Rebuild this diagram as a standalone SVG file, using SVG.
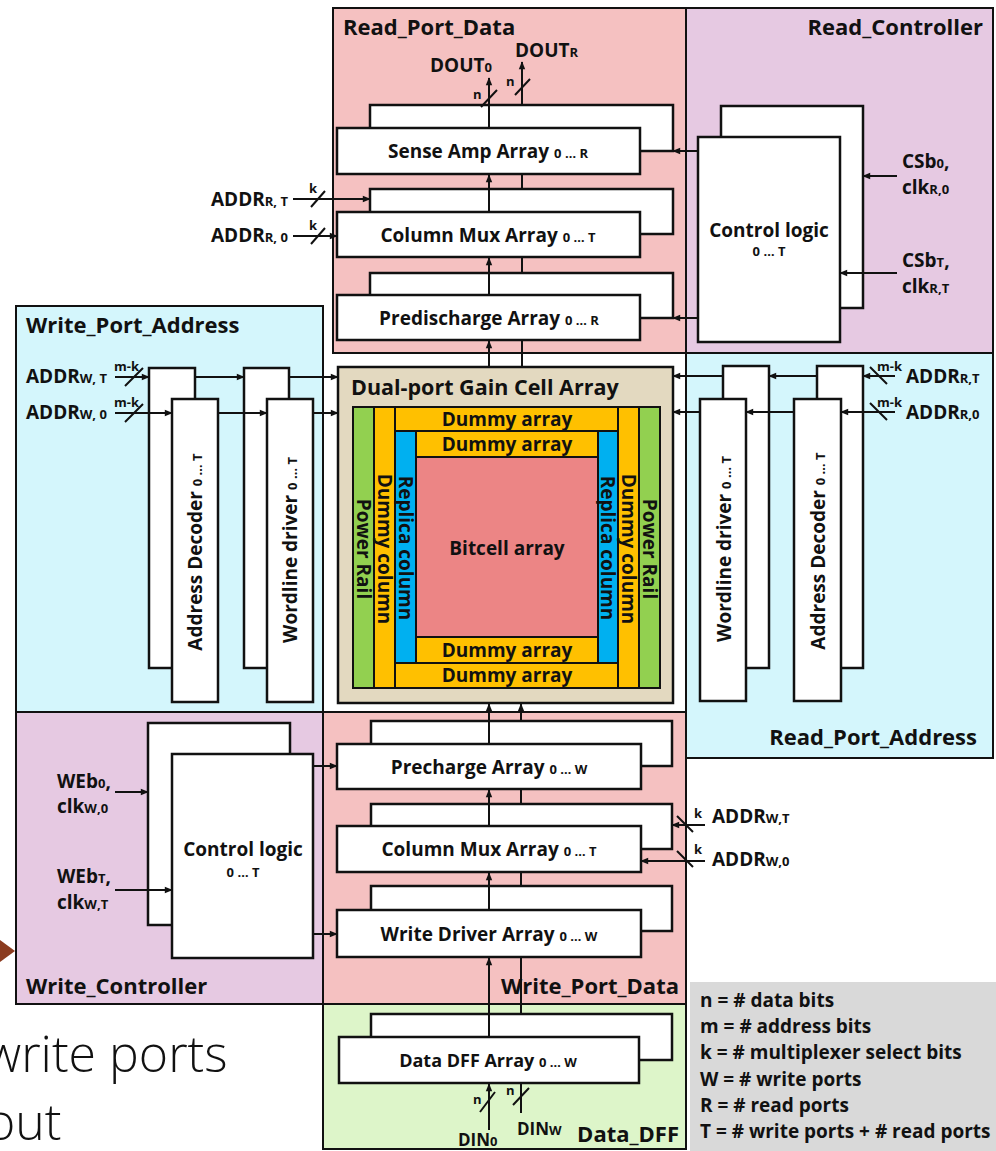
<svg xmlns="http://www.w3.org/2000/svg" width="996" height="1151" viewBox="0 0 996 1151">
<defs>
<style>
text{font-family:"Open Sans","Noto Sans","Liberation Sans",sans-serif;font-weight:700;fill:#111}
.reg{stroke:#111;stroke-width:2}
.blk{fill:#fff;stroke:#111;stroke-width:2.5}
.cell{stroke:#111;stroke-width:2}
.ln{stroke:#111;stroke-width:2;fill:none}
.ar{marker-end:url(#ah)}
.lbl{font-size:22px}
.bt{font-size:19px}
.sub{font-size:13px}
.sig{font-size:19px}
.leg{font-size:19px}
.ss{font-size:13px}
.mid{text-anchor:middle}
.end{text-anchor:end}
.slide{font-family:"Open Sans","Noto Sans",sans-serif;font-weight:300;font-size:50px;fill:#111}
.pink{fill:#f5c1c1}.purp{fill:#e6c9e2}.cyan{fill:#d4f6fc}.grn{fill:#ddf5c9}
.pw{fill:#92d050}.dm{fill:#ffc000}.rp{fill:#00b0f0}.bc{fill:#ec8585}
</style>
<marker id="ah" viewBox="0 0 10 10" refX="9" refY="5" markerWidth="9" markerHeight="8" markerUnits="userSpaceOnUse" orient="auto"><path d="M0,1 L10,5 L0,9 z" fill="#111"/></marker>
</defs>
<rect width="996" height="1151" fill="#fff"/>
<g id="slide-bg">
<text class="slide" x="-15" y="1072">write ports</text>
<text class="slide" x="-14" y="1140">out</text>
<polygon points="0,940 15,951 0,962" fill="#8b3b1f"/>
</g>
<g id="Read_Port_Data"><rect class="reg pink" x="333" y="8" width="353" height="345"/><text class="lbl" x="343" y="35">Read_Port_Data</text></g>
<g id="Read_Controller"><rect class="reg purp" x="686" y="8" width="307" height="345"/><text class="lbl end" x="983" y="35">Read_Controller</text></g>
<g id="Write_Port_Address"><rect class="reg cyan" x="16" y="306" width="307" height="406"/><text class="lbl" x="26" y="333">Write_Port_Address</text></g>
<g id="Read_Port_Address"><rect class="reg cyan" x="686" y="353" width="307" height="405"/><text class="lbl end" x="977" y="745">Read_Port_Address</text></g>
<g id="Write_Controller"><rect class="reg purp" x="16" y="712" width="307" height="292"/><text class="lbl" x="26" y="994">Write_Controller</text></g>
<g id="Write_Port_Data"><rect class="reg pink" x="323" y="712" width="363" height="292"/></g>
<g id="Data_DFF"><rect class="reg grn" x="323" y="1004" width="363" height="145"/><text class="lbl end" x="679" y="1142">Data_DFF</text></g>
<g id="legend"><rect x="690" y="982" width="306" height="169" fill="#d9d9d9"/>
<text class="leg" x="700" y="1007">n = # data bits</text>
<text class="leg" x="700" y="1033">m = # address bits</text>
<text class="leg" x="700" y="1059">k = # multiplexer select bits</text>
<text class="leg" x="700" y="1086">W = # write ports</text>
<text class="leg" x="700" y="1112">R = # read ports</text>
<text class="leg" x="700" y="1138">T = # write ports + # read ports</text>
</g>

<g id="sense_amp"><rect class="blk" x="370" y="105" width="303" height="46"/><rect class="blk" x="337" y="128" width="303" height="46"/><text class="bt mid" x="488" y="158">Sense Amp Array <tspan class="sub">0 … R</tspan></text></g>
<g id="col_mux_r"><rect class="blk" x="370" y="189" width="303" height="45"/><rect class="blk" x="337" y="212" width="303" height="45"/><text class="bt mid" x="488" y="242">Column Mux Array <tspan class="sub">0 … T</tspan></text></g>
<g id="predischarge"><rect class="blk" x="370" y="273" width="303" height="45"/><rect class="blk" x="337" y="295" width="303" height="45"/><text class="bt mid" x="489" y="325">Predischarge Array <tspan class="sub">0 … R</tspan></text></g>
<g id="ctrl_r"><rect class="blk" x="721" y="106" width="142" height="202"/><rect class="blk" x="698" y="137" width="142" height="205"/><text class="bt mid" x="769" y="237">Control logic</text><text class="sub mid" x="769" y="256">0 … T</text></g>

<g id="addr_dec_w"><rect class="blk" x="149" y="368" width="46" height="300"/><rect class="blk" x="172" y="399" width="46" height="303"/><text class="bt mid" transform="translate(202,552) rotate(-90)">Address Decoder <tspan class="sub">0 … T</tspan></text></g>
<g id="wl_drv_w"><rect class="blk" x="244" y="368" width="45" height="300"/><rect class="blk" x="267" y="399" width="46" height="303"/><text class="bt mid" transform="translate(297,550) rotate(-90)">Wordline driver <tspan class="sub">0 … T</tspan></text></g>
<g id="wl_drv_r"><rect class="blk" x="723" y="366" width="46" height="302"/><rect class="blk" x="700" y="399" width="46" height="302"/><text class="bt mid" transform="translate(731,549) rotate(-90)">Wordline driver <tspan class="sub">0 … T</tspan></text></g>
<g id="addr_dec_r"><rect class="blk" x="817" y="366" width="46" height="302"/><rect class="blk" x="794" y="399" width="47" height="302"/><text class="bt mid" transform="translate(825,551) rotate(-90)">Address Decoder <tspan class="sub">0 … T</tspan></text></g>

<g id="gain_cell_array">
<rect x="338" y="367" width="335" height="336" fill="#e3d9c0" stroke="#111" stroke-width="2.5"/>
<text class="lbl" x="351" y="395" style="font-size:21.5px">Dual-port Gain Cell Array</text>
<rect class="cell pw" x="353" y="407" width="21" height="281"/>
<rect class="cell dm" x="374" y="407" width="21" height="281"/>
<rect class="cell rp" x="395" y="431" width="21" height="232"/>
<rect class="cell pw" x="639" y="407" width="21" height="281"/>
<rect class="cell dm" x="618" y="407" width="21" height="281"/>
<rect class="cell rp" x="598" y="431" width="20" height="232"/>
<rect class="cell dm" x="395" y="407" width="223" height="24"/>
<rect class="cell dm" x="416" y="431" width="182" height="26"/>
<rect class="cell bc" x="416" y="457" width="182" height="180"/>
<rect class="cell dm" x="416" y="637" width="182" height="26"/>
<rect class="cell dm" x="395" y="663" width="223" height="25"/>
<text class="bt mid" x="507" y="426">Dummy array</text>
<text class="bt mid" x="507" y="451">Dummy array</text>
<text class="bt mid" x="507" y="555">Bitcell array</text>
<text class="bt mid" x="507" y="657">Dummy array</text>
<text class="bt mid" x="507" y="682">Dummy array</text>
<text class="bt mid" transform="translate(357,549) rotate(90)">Power Rail</text>
<text class="bt mid" transform="translate(378,549) rotate(90)">Dummy column</text>
<text class="bt mid" transform="translate(399,548) rotate(90)">Replica column</text>
<text class="bt mid" transform="translate(601,548) rotate(90)">Replica column</text>
<text class="bt mid" transform="translate(622,549) rotate(90)">Dummy column</text>
<text class="bt mid" transform="translate(643,549) rotate(90)">Power Rail</text>
</g>

<g id="precharge"><rect class="blk" x="371" y="721" width="301" height="45"/><rect class="blk" x="337" y="744" width="304" height="45"/><text class="bt mid" x="489" y="774">Precharge Array <tspan class="sub">0 … W</tspan></text></g>
<g id="col_mux_w"><rect class="blk" x="371" y="804" width="301" height="45"/><rect class="blk" x="337" y="826" width="304" height="46"/><text class="bt mid" x="489" y="856">Column Mux Array <tspan class="sub">0 … T</tspan></text></g>
<g id="write_driver"><rect class="blk" x="371" y="886" width="301" height="45"/><rect class="blk" x="337" y="910" width="304" height="47"/><text class="bt mid" x="489" y="941">Write Driver Array <tspan class="sub">0 … W</tspan></text></g>
<g id="ctrl_w"><rect class="blk" x="148" y="723" width="142" height="202"/><rect class="blk" x="172" y="754" width="141" height="204"/><text class="bt mid" x="243" y="856">Control logic</text><text class="sub mid" x="243" y="877">0 … T</text></g>
<g id="data_dff"><rect class="blk" x="371" y="1014" width="301" height="46"/><rect class="blk" x="339" y="1037" width="300" height="46"/><text class="mid" style="font-size:18px" x="488" y="1067">Data DFF Array <tspan class="sub">0 … W</tspan></text></g>

<g id="connectors">
<path class="ln ar" d="M489,128 V78"/>
<path class="ln ar" d="M522,105 V62"/>
<path class="ln" d="M481,107 L497,90 M515,95 L530,79"/>
<path class="ln ar" d="M489,212 V175"/>
<path class="ln" d="M522,189 V174"/>
<path class="ln ar" d="M489,295 V258"/>
<path class="ln" d="M522,273 V257"/>
<path class="ln ar" d="M489,367 V341"/>
<path class="ln" d="M522,367 V340"/>
<path class="ln ar" d="M293,199 H370"/>
<path class="ln ar" d="M293,236 H337"/>
<path class="ln" d="M311,207 L325,191 M311,244 L325,228"/>
<path class="ln ar" d="M698,151 H673"/>
<path class="ln ar" d="M698,318 H673"/>
<path class="ln ar" d="M897,176 H863"/>
<path class="ln ar" d="M897,273 H840"/>
<path class="ln ar" d="M115,377 H149"/>
<path class="ln ar" d="M195,377 H244"/>
<path class="ln ar" d="M289,377 H338"/>
<path class="ln ar" d="M115,413 H172"/>
<path class="ln ar" d="M218,413 H267"/>
<path class="ln ar" d="M313,413 H338"/>
<path class="ln" d="M125,386 L143,368 M125,422 L143,404"/>
<path class="ln ar" d="M895,376 H863"/>
<path class="ln ar" d="M817,376 H769"/>
<path class="ln ar" d="M723,376 H673"/>
<path class="ln ar" d="M895,412 H841"/>
<path class="ln ar" d="M794,412 H746"/>
<path class="ln ar" d="M700,412 H673"/>
<path class="ln" d="M870,367 L887,384 M870,403 L887,420"/>
<path class="ln ar" d="M489,744 V704"/>
<path class="ln ar" d="M521,721 V704"/>
<path class="ln ar" d="M489,826 V790"/>
<path class="ln" d="M521,804 V789"/>
<path class="ln ar" d="M489,910 V873"/>
<path class="ln" d="M521,886 V872"/>
<path class="ln ar" d="M489,1037 V958"/>
<path class="ln" d="M521,1014 V957"/>
<path class="ln ar" d="M313,766 H337"/>
<path class="ln ar" d="M313,934 H337"/>
<path class="ln ar" d="M115,792 H148"/>
<path class="ln ar" d="M115,890 H172"/>
<path class="ln ar" d="M705,825 H672"/>
<path class="ln ar" d="M705,861 H641"/>
<path class="ln" d="M677,816 L693,832 M677,851 L693,867"/>
<path class="ln ar" d="M489,1130 V1084"/>
<path class="ln" d="M521,1113 V1083"/>
<path class="ln" d="M480,1112 L495,1092 M513,1105 L529,1088"/>
</g>

<g id="labels">
<text class="sig" x="430" y="72">DOUT<tspan class="sub">0</tspan></text>
<text class="sig" x="515" y="57">DOUT<tspan class="sub">R</tspan></text>
<text class="ss" x="473" y="99">n</text>
<text class="ss" x="506" y="86">n</text>
<text class="sig" x="211" y="206">ADDR<tspan class="sub">R, T</tspan></text>
<text class="sig" x="211" y="242">ADDR<tspan class="sub">R, 0</tspan></text>
<text class="ss" x="309" y="193">k</text>
<text class="ss" x="309" y="230">k</text>
<text class="sig" x="902" y="168">CSb<tspan class="sub">0</tspan>,</text>
<text class="sig" x="902" y="194">clk<tspan class="sub">R,0</tspan></text>
<text class="sig" x="902" y="267">CSb<tspan class="sub">T</tspan>,</text>
<text class="sig" x="902" y="293">clk<tspan class="sub">R,T</tspan></text>
<text class="sig" x="26" y="383">ADDR<tspan class="sub">W, T</tspan></text>
<text class="sig" x="26" y="419">ADDR<tspan class="sub">W, 0</tspan></text>
<text class="ss" x="114" y="371">m-k</text>
<text class="ss" x="114" y="407">m-k</text>
<text class="sig" x="906" y="383">ADDR<tspan class="sub">R,T</tspan></text>
<text class="sig" x="906" y="419">ADDR<tspan class="sub">R,0</tspan></text>
<text class="ss" x="877" y="371">m-k</text>
<text class="ss" x="877" y="407">m-k</text>
<text class="sig" x="57" y="788">WEb<tspan class="sub">0</tspan>,</text>
<text class="sig" x="57" y="813">clk<tspan class="sub">W,0</tspan></text>
<text class="sig" x="57" y="883">WEb<tspan class="sub">T</tspan>,</text>
<text class="sig" x="57" y="909">clk<tspan class="sub">W,T</tspan></text>
<text class="sig" x="712" y="823">ADDR<tspan class="sub">W,T</tspan></text>
<text class="sig" x="712" y="866">ADDR<tspan class="sub">W,0</tspan></text>
<text class="ss" x="694" y="818">k</text>
<text class="ss" x="694" y="854">k</text>
<text class="lbl end" x="679" y="994">Write_Port_Data</text>
<text class="ss" x="473" y="1104">n</text>
<text class="ss" x="506" y="1095">n</text>
<text style="font-size:17px" x="458" y="1146">DIN<tspan class="sub">0</tspan></text>
<text style="font-size:17px" x="517" y="1135">DIN<tspan class="sub">W</tspan></text>
</g>
</svg>
